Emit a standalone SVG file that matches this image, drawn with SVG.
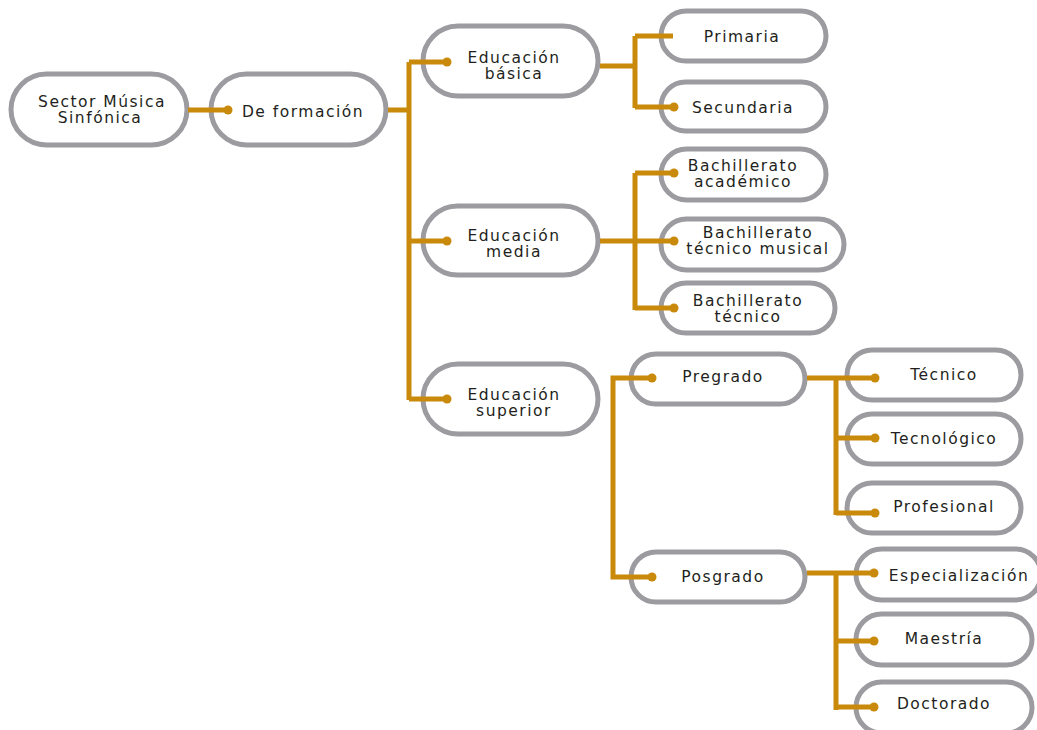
<svg xmlns="http://www.w3.org/2000/svg" width="1037" height="730" viewBox="0 0 1037 730">
<style>
.n{fill:#fff;stroke:#9c9ba0;stroke-width:5}
.t{font-family:"DejaVu Sans","Liberation Sans",sans-serif;font-size:15.5px;letter-spacing:1.5px;fill:#231f20;text-anchor:middle}
.c{fill:none;stroke:#c98a0c;stroke-width:5}
.d{fill:#c98a0c}
</style>
<rect width="1037" height="730" fill="#fff"/>
<g id="nodes">
<g id="n-sector"><rect class="n" x="11" y="74" width="176" height="71" rx="35.5"/><text class="t" x="102" y="107">Sector Música</text><text class="t" x="100" y="123">Sinfónica</text></g>
<g id="n-formacion"><rect class="n" x="211" y="74" width="175" height="71" rx="35.5"/><text class="t" x="303" y="117">De formación</text></g>
<g id="n-basica"><rect class="n" x="423" y="26" width="175" height="70" rx="35"/><text class="t" x="514" y="63">Educación</text><text class="t" x="514" y="79">básica</text></g>
<g id="n-media"><rect class="n" x="423" y="206" width="175" height="69" rx="34.5"/><text class="t" x="514" y="241">Educación</text><text class="t" x="514" y="257">media</text></g>
<g id="n-superior"><rect class="n" x="423" y="364" width="175" height="70" rx="35"/><text class="t" x="514" y="400">Educación</text><text class="t" x="514" y="416">superior</text></g>
<g id="n-primaria"><rect class="n" x="661" y="11" width="165" height="50" rx="25"/><text class="t" x="742" y="42">Primaria</text></g>
<g id="n-secundaria"><rect class="n" x="661" y="82" width="165" height="49" rx="24.5"/><text class="t" x="743" y="113">Secundaria</text></g>
<g id="n-bach-acad"><rect class="n" x="661" y="149" width="165" height="51" rx="25.5"/><text class="t" x="743" y="171">Bachillerato</text><text class="t" x="743" y="187">académico</text></g>
<g id="n-bach-mus"><rect class="n" x="661" y="219" width="183" height="51" rx="25.5"/><text class="t" x="758" y="238">Bachillerato</text><text class="t" x="758" y="254">técnico musical</text></g>
<g id="n-bach-tec"><rect class="n" x="661" y="283" width="174" height="50" rx="25"/><text class="t" x="748" y="306">Bachillerato</text><text class="t" x="748" y="322">técnico</text></g>
<g id="n-pregrado"><rect class="n" x="631" y="354" width="174" height="50" rx="25"/><text class="t" x="723" y="382">Pregrado</text></g>
<g id="n-posgrado"><rect class="n" x="631" y="552" width="174" height="50" rx="25"/><text class="t" x="723" y="582">Posgrado</text></g>
<g id="n-tecnico"><rect class="n" x="847" y="350" width="174" height="50" rx="25"/><text class="t" x="944" y="380">Técnico</text></g>
<g id="n-tecnologico"><rect class="n" x="847" y="414" width="174" height="50" rx="25"/><text class="t" x="944" y="444">Tecnológico</text></g>
<g id="n-profesional"><rect class="n" x="847" y="483" width="174" height="50" rx="25"/><text class="t" x="944" y="512">Profesional</text></g>
<g id="n-especializacion"><rect class="n" x="856" y="549" width="185" height="51" rx="25.5"/><text class="t" x="959" y="581">Especialización</text></g>
<g id="n-maestria"><rect class="n" x="856" y="614" width="176" height="51" rx="25.5"/><text class="t" x="944" y="644">Maestría</text></g>
<g id="n-doctorado"><rect class="n" x="856" y="682" width="176" height="51" rx="25.5"/><text class="t" x="944" y="709">Doctorado</text></g>
</g>
<g id="connectors">
<path class="c" d="M188 110H228"/>
<circle class="d" cx="228" cy="110" r="4.5"/>
<path class="c" d="M388 110H409M409 62V400M409 62H447M409 241H447M409 399H447"/>
<circle class="d" cx="447" cy="62" r="4.5"/>
<circle class="d" cx="447" cy="241" r="4.5"/>
<circle class="d" cx="447" cy="399" r="4.5"/>
<path class="c" d="M600 66H635M635 36V108M635 36H673M635 107H674"/>
<circle class="d" cx="674" cy="107" r="4.5"/>
<path class="c" d="M600 241H635M635 173V310M635 173H674M635 241H674M635 308H674"/>
<circle class="d" cx="674" cy="173" r="4.5"/>
<circle class="d" cx="674" cy="241" r="4.5"/>
<circle class="d" cx="674" cy="308" r="4.5"/>
<path class="c" d="M652 378H613V577H652"/>
<circle class="d" cx="652" cy="378" r="4.5"/>
<circle class="d" cx="652" cy="577" r="4.5"/>
<path class="c" d="M807 378H836M836 378V515M836 378H875M836 438H875M836 513H875"/>
<circle class="d" cx="875" cy="378" r="4.5"/>
<circle class="d" cx="875" cy="438" r="4.5"/>
<circle class="d" cx="875" cy="513" r="4.5"/>
<path class="c" d="M807 573H836M836 573V710M836 573H874M836 641H874M836 707H874"/>
<circle class="d" cx="874" cy="573" r="4.5"/>
<circle class="d" cx="874" cy="641" r="4.5"/>
<circle class="d" cx="874" cy="707" r="4.5"/>
</g>
</svg>
